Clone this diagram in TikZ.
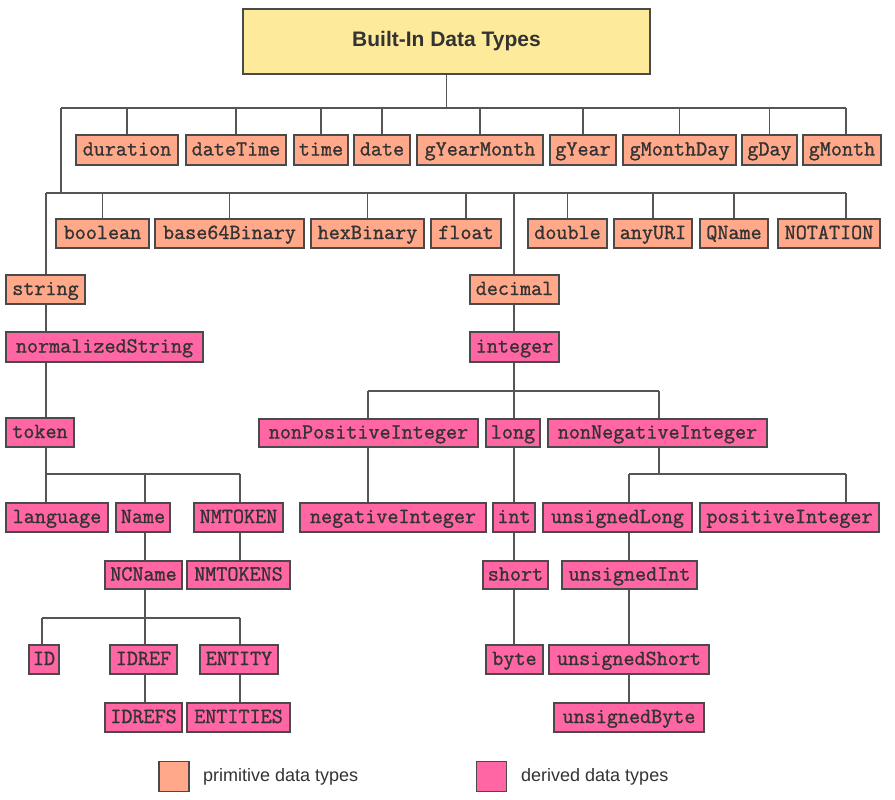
\documentclass[tikz,border=0pt]{standalone}
\usepackage{fontspec}
\setmainfont{Liberation Sans}
\newfontfamily\monof[FakeBold=1.2]{Latin Modern Mono}
\definecolor{primc}{HTML}{FFA98A}
\definecolor{derc}{HTML}{FF66A3}
\definecolor{titc}{HTML}{FDEA9B}
\definecolor{edgec}{HTML}{4A4A4A}
\definecolor{linec}{HTML}{555555}
\definecolor{txtc}{HTML}{333333}
\tikzset{
  boxbase/.style={draw=edgec, line width=1.3pt, inner sep=0pt, text=txtc, text height=14pt, text depth=3pt, font=\monof\fontsize{21.5}{21.5}\selectfont},
  prim/.style={boxbase, fill=primc},
  der/.style={boxbase, fill=derc},
  conn/.style={draw=linec, line width=1.3pt},
}
\newcommand{\bx}[7]{\node[#2, minimum width={(#5-#3)*1pt}, minimum height={(#6-#4)*1pt}] (#1) at ({(#3+#5)/2},{(#4+#6)/2}) {#7};}
\begin{document}
\begin{tikzpicture}[x=1pt,y=-1pt]
\useasboundingbox (0,0) rectangle (895,800);
% title
\node[draw=edgec, line width=1.3pt, fill=titc, minimum width=407pt, minimum height=65pt, inner sep=0pt, text=txtc, font=\bfseries\fontsize{21}{21}\selectfont] (title) at (446.5,41.5) {Built-In Data Types};
% row 1
\bx{duration}{prim}{76}{135}{178}{165}{duration}
\bx{dateTime}{prim}{186}{135}{286}{165}{dateTime}
\bx{time}{prim}{294}{135}{348}{165}{time}
\bx{date}{prim}{354}{135}{410}{165}{date}
\bx{gYearMonth}{prim}{417}{135}{543}{165}{gYearMonth}
\bx{gYear}{prim}{550}{135}{616}{165}{gYear}
\bx{gMonthDay}{prim}{623}{135}{736}{165}{gMonthDay}
\bx{gDay}{prim}{742}{135}{797}{165}{gDay}
\bx{gMonth}{prim}{803}{135}{881}{165}{gMonth}
% row 2
\bx{boolean}{prim}{56}{219}{149}{248}{boolean}
\bx{base64Binary}{prim}{155}{219}{304}{248}{base64Binary}
\bx{hexBinary}{prim}{311}{219}{424}{248}{hexBinary}
\bx{float}{prim}{431}{219}{501}{248}{float}
\bx{double}{prim}{528}{219}{607}{248}{double}
\bx{anyURI}{prim}{614}{219}{692}{248}{anyURI}
\bx{QName}{prim}{700}{219}{768}{248}{QName}
\bx{NOTATION}{prim}{778}{219}{880}{248}{NOTATION}
% string branch
\bx{string}{prim}{6}{275}{85}{304}{string}
\bx{normalizedString}{der}{6}{332}{203}{362}{normalizedString}
\bx{token}{der}{6}{418}{74}{447}{token}
\bx{language}{der}{6}{503}{108}{532}{language}
\bx{Name}{der}{116}{503}{170}{532}{Name}
\bx{NMTOKEN}{der}{194}{503}{283}{532}{NMTOKEN}
\bx{NCName}{der}{105}{561}{182}{589}{NCName}
\bx{NMTOKENS}{der}{187}{561}{290}{589}{NMTOKENS}
\bx{ID}{der}{29}{645}{59}{674}{ID}
\bx{IDREF}{der}{110}{645}{177}{674}{IDREF}
\bx{ENTITY}{der}{200}{645}{278}{674}{ENTITY}
\bx{IDREFS}{der}{105}{703}{182}{732}{IDREFS}
\bx{ENTITIES}{der}{187}{703}{290}{732}{ENTITIES}
% decimal branch
\bx{decimal}{prim}{470}{275}{559}{304}{decimal}
\bx{integer}{der}{470}{332}{559}{362}{integer}
\bx{nonPositiveInteger}{der}{259}{419}{478}{447}{nonPositiveInteger}
\bx{long}{der}{486}{419}{540}{447}{long}
\bx{nonNegativeInteger}{der}{548}{419}{767}{447}{nonNegativeInteger}
\bx{negativeInteger}{der}{300}{503}{486}{532}{negativeInteger}
\bx{int}{der}{493}{503}{535}{532}{int}
\bx{unsignedLong}{der}{543}{503}{692}{532}{unsignedLong}
\bx{positiveInteger}{der}{700}{503}{879}{532}{positiveInteger}
\bx{short}{der}{483}{561}{548}{589}{short}
\bx{unsignedInt}{der}{562}{561}{697}{589}{unsignedInt}
\bx{byte}{der}{486}{645}{543}{674}{byte}
\bx{unsignedShort}{der}{549}{645}{709}{674}{unsignedShort}
\bx{unsignedByte}{der}{554}{703}{704}{732}{unsignedByte}
% legend
\node[draw=edgec, line width=1.3pt, fill=primc, minimum width=30pt, minimum height=30pt, inner sep=0pt] (legP) at (174,776.5) {};
\node[anchor=west, text=txtc, font=\fontsize{18}{18}\selectfont, inner sep=0pt] (legPt) at (203,776.5) {primitive data types};
\node[draw=edgec, line width=1.3pt, fill=derc, minimum width=30pt, minimum height=30pt, inner sep=0pt] (legD) at (491.5,776.5) {};
\node[anchor=west, text=txtc, font=\fontsize{18}{18}\selectfont, inner sep=0pt] (legDt) at (521,776.5) {derived data types};
% coordinates
\coordinate (b1L) at (61,108);
\coordinate (b1R) at (846,108);
\coordinate (b2L) at (46,193);
\coordinate (b2R) at (846,193);
\coordinate (colS) at (46,0);
\coordinate (tbL) at (46,474);
\coordinate (tbR) at (240,474);
\coordinate (colN) at (145,0);
\coordinate (nbL) at (42,618);
\coordinate (nbR) at (240,618);
\coordinate (ibL) at (368,391);
\coordinate (ibR) at (659,391);
\coordinate (colD) at (514,0);
\coordinate (ubM) at (659,474);
\coordinate (ubL) at (629,474);
\coordinate (ubR) at (846,474);
\begin{scope}[conn]
% level 1
\draw (title.south) -- (title.south |- b1L);
\draw (b1L) -- (b1R);
\foreach \n in {duration,dateTime,time,date,gYearMonth,gYear,gMonthDay,gDay}
  \draw (\n.north) -- (\n.north |- b1L);
\draw (b1R) -- (b1R |- gMonth.north);
% level 2
\draw (b1L) -- (b1L |- b2L);
\draw (b2L) -- (b2R);
\foreach \n in {boolean,base64Binary,hexBinary,float,double,anyURI,QName}
  \draw (\n.north) -- (\n.north |- b2L);
\draw (b2R) -- (b2R |- NOTATION.north);
\draw (b2L) -- (b2L |- string.north);
\draw (colD |- b2L) -- (colD |- decimal.north);
% string branch
\draw (colS |- string.south) -- (colS |- normalizedString.north);
\draw (colS |- normalizedString.south) -- (colS |- token.north);
\draw (colS |- token.south) -- (tbL);
\draw (tbL) -- (tbR);
\draw (tbL) -- (tbL |- language.north);
\draw (colN |- tbL) -- (colN |- Name.north);
\draw (tbR) -- (tbR |- NMTOKEN.north);
\draw (colN |- Name.south) -- (colN |- NCName.north);
\draw (tbR |- NMTOKEN.south) -- (tbR |- NMTOKENS.north);
\draw (colN |- NCName.south) -- (colN |- nbL);
\draw (nbL) -- (nbR);
\draw (nbL) -- (nbL |- ID.north);
\draw (colN |- nbL) -- (colN |- IDREF.north);
\draw (nbR) -- (nbR |- ENTITY.north);
\draw (colN |- IDREF.south) -- (colN |- IDREFS.north);
\draw (nbR |- ENTITY.south) -- (nbR |- ENTITIES.north);
% decimal branch
\draw (colD |- decimal.south) -- (colD |- integer.north);
\draw (colD |- integer.south) -- (colD |- ibL);
\draw (ibL) -- (ibR);
\draw (ibL) -- (ibL |- nonPositiveInteger.north);
\draw (colD |- ibL) -- (colD |- long.north);
\draw (ibR) -- (ibR |- nonNegativeInteger.north);
\draw (ibL |- nonPositiveInteger.south) -- (ibL |- negativeInteger.north);
\draw (colD |- long.south) -- (colD |- int.north);
\draw (colD |- int.south) -- (colD |- short.north);
\draw (colD |- short.south) -- (colD |- byte.north);
\draw (ubM |- nonNegativeInteger.south) -- (ubM);
\draw (ubL) -- (ubR);
\draw (ubL) -- (ubL |- unsignedLong.north);
\draw (ubR) -- (ubR |- positiveInteger.north);
\draw (ubL |- unsignedLong.south) -- (ubL |- unsignedInt.north);
\draw (ubL |- unsignedInt.south) -- (ubL |- unsignedShort.north);
\draw (ubL |- unsignedShort.south) -- (ubL |- unsignedByte.north);
\end{scope}
\end{tikzpicture}
\end{document}
